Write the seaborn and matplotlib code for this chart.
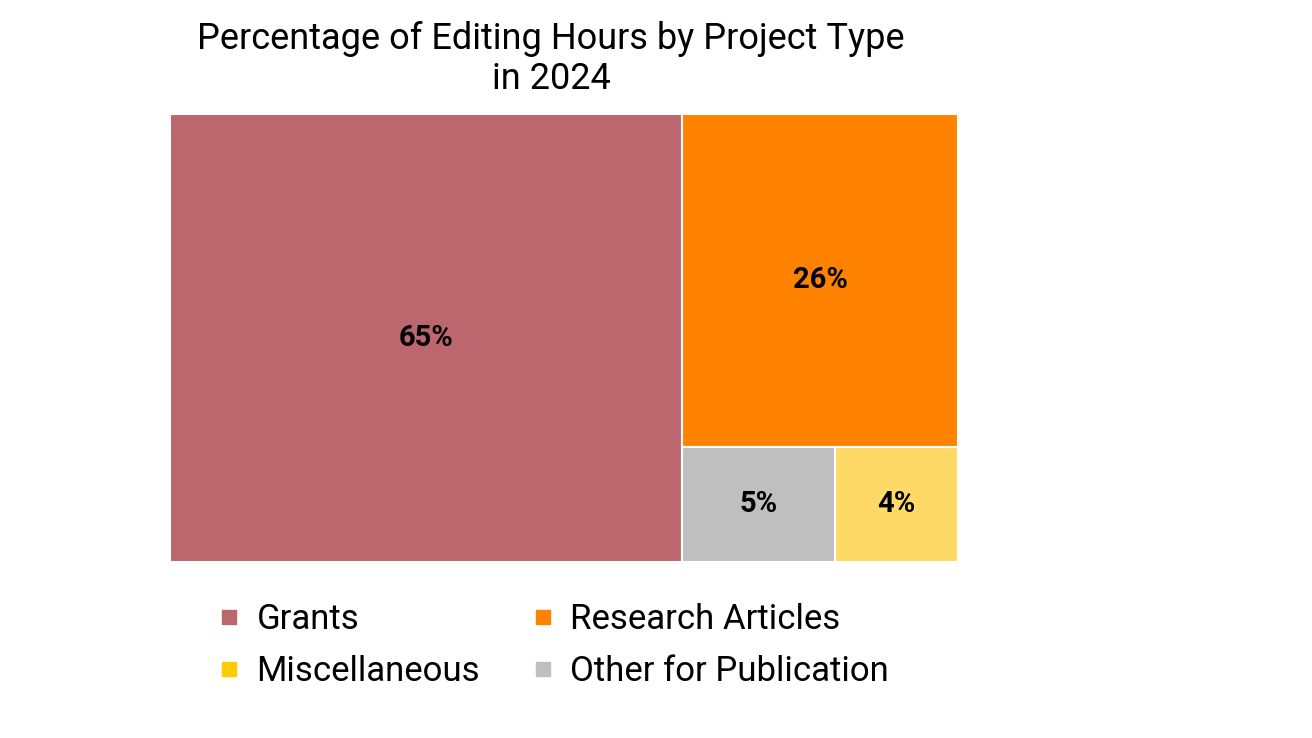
import matplotlib
matplotlib.use('Agg')
import matplotlib.pyplot as plt
import seaborn as sns
from matplotlib.lines import Line2D

sns.set_style('white')
plt.rcParams['font.family'] = ['Roboto', 'DejaVu Sans']

categories = ['Grants', 'Research Articles', 'Other for Publication', 'Miscellaneous']
values = [65, 26, 5, 4]
colors = ['#BC666D', '#FF8200', '#BFBFBF', '#FFD966']
# legend fills column by column: Grants / Miscellaneous, Research Articles / Other
legend_order = ['Grants', 'Miscellaneous', 'Research Articles', 'Other for Publication']
legend_colors = {'Grants': '#BC666D', 'Research Articles': '#FF8200',
                 'Miscellaneous': '#FFCC00', 'Other for Publication': '#BFBFBF'}

fig = plt.figure(figsize=(13.12, 7.38), dpi=100)
ax = fig.add_axes([0.1296, 0.2385, 0.6006, 0.607])

total = sum(values)
w0 = values[0] / total
rest = total - values[0]
h1 = values[1] / rest
small = values[2] + values[3]
w2 = (1 - w0) * values[2] / small
w3 = (1 - w0) * values[3] / small
rects = [
    (0, 0, w0, 1),
    (w0, 1 - h1, 1 - w0, h1),
    (w0, 0, w2, 1 - h1),
    (w0 + w2, 0, w3, 1 - h1),
]
for (x, y, w, h), v, c in zip(rects, values, colors):
    ax.bar(x, h, width=w, bottom=y, align='edge', color=c, edgecolor='white', linewidth=1.5)
    ax.text(x + w / 2, y + h / 2, f'{v}%', ha='center', va='center',
            fontsize=21, fontweight='bold', color='black')

ax.set_xlim(0, 1)
ax.set_ylim(0, 1)
ax.axis('off')

fig.text(0.42, 0.92, 'Percentage of Editing Hours by Project Type\nin 2024',
         ha='center', va='center', fontsize=26, linespacing=1.15, color='black')

handles = [Line2D([], [], marker='s', linestyle='', markersize=10,
                  color=legend_colors[n], label=n) for n in legend_order]
fig.legend(handles=handles, loc='upper left', bbox_to_anchor=(0.14, 0.225),
           ncol=2, frameon=False, fontsize=25, handlelength=0.8, handletextpad=0.4,
           columnspacing=1.4, labelspacing=0.55, labelcolor='black')

fig.savefig('out.png', dpi=100)
